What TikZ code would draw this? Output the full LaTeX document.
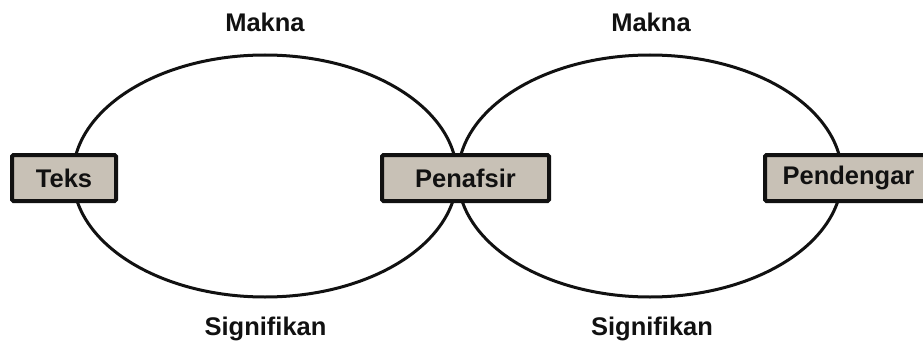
\documentclass[tikz,border=0pt]{standalone}
\usepackage{fontspec}
\setmainfont{Liberation Sans}
\definecolor{boxfill}{HTML}{C8C1B6}
\definecolor{ink}{HTML}{111111}
\begin{document}
\begin{tikzpicture}[x=1pt,y=-1pt,
  lbl/.style={font=\fontsize{25.5}{30}\selectfont\bfseries, text=ink, inner sep=0pt},
  roleBox/.style={draw=ink, fill=boxfill, line width=4pt, rounded corners=1.5pt,
     minimum height=46pt, inner sep=0pt, font=\fontsize{25.5}{30}\selectfont\bfseries, text=ink},
  loop/.style={draw=ink, line width=3pt}]
\useasboundingbox (0,0) rectangle (923,342);
\clip (0,0) rectangle (923,342);
\fill[white] (0,0) rectangle (923,342);
\draw[loop] (265,176) ellipse [x radius=192, y radius=121];
\draw[loop] (650,176) ellipse [x radius=192, y radius=121];
\node[roleBox, minimum width=104pt] (teks) at (64,178) {Teks};
\node[roleBox, minimum width=167pt] (penafsir) at (465.5,178) {Penafsir};
\node[roleBox, minimum width=167pt] (pendengar) at (848.5,178) {Pendengar};
\node[lbl] (makna1) at (265,22) {Makna};
\node[lbl] (makna2) at (651,22) {Makna};
\node[lbl, anchor=base] (sig1) at (265.5,335) {Signifikan};
\node[lbl, anchor=base] (sig2) at (652,335) {Signifikan};
\end{tikzpicture}
\end{document}
